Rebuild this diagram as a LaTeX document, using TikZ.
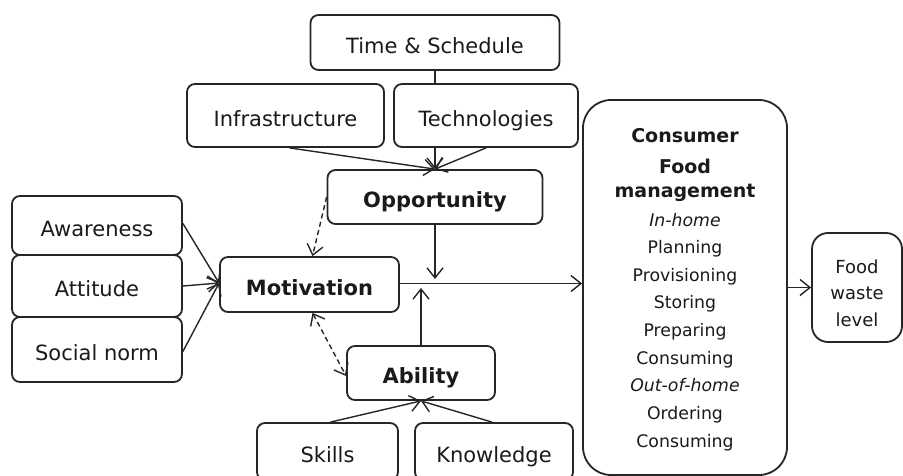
\documentclass[tikz,border=0pt]{standalone}
\usepackage{fontspec}
\setmainfont{DejaVu Sans}
\usetikzlibrary{arrows.meta,calc}
\newcommand{\lblfont}{\fontsize{21}{25}\selectfont}
\newcommand{\bigbold}{\fontsize{19}{23}\selectfont\bfseries}
\newcommand{\smallfont}{\fontsize{17.3}{21}\selectfont}
\newcommand{\wastefont}{\fontsize{18}{22}\selectfont}
\definecolor{ink}{HTML}{262626}
\definecolor{txt}{HTML}{1A1A1A}
\tikzset{
  box/.style={draw=ink, line width=1.8pt, rounded corners=8pt, fill=white,
    inner sep=0pt, font=\lblfont, text=txt, text height=23pt, text depth=1.6pt},
  boldbox/.style={box, font=\lblfont\bfseries},
  tip/.tip={Straight Barb[length=10pt,width=16pt,line width=1.4pt]},
  conn/.style={draw=ink, line width=1.4pt, -tip},
  plain/.style={draw=ink, line width=1.4pt},
  dash2/.style={dash pattern=on 5pt off 3.5pt},
  linetext/.style={anchor=base, inner sep=0pt, text=txt},
}
\begin{document}
\begin{tikzpicture}[x=1pt,y=-1pt]
\clip (0,0) rectangle (903,476);
\fill[white] (0,0) rectangle (903,476);

% nodes
\node[box, minimum width=249pt, minimum height=55pt] (time) at (435,42.5) {Time \& Schedule};
\node[box, minimum width=197pt, minimum height=63pt] (infra) at (285.5,115.5) {Infrastructure};
\node[box, minimum width=184pt, minimum height=63pt] (tech) at (486,115.5) {Technologies};
\node[boldbox, minimum width=215pt, minimum height=54pt] (opp) at (435,197) {Opportunity};
\node[box, minimum width=170pt, minimum height=59pt] (aware) at (97,225.5) {Awareness};
\node[box, minimum width=170pt, minimum height=62pt] (att) at (97,286) {Attitude};
\node[box, minimum width=170pt, minimum height=65pt] (soc) at (97,349.5) {Social norm};
\node[boldbox, minimum width=179pt, minimum height=55pt] (mot) at (309.5,284.5) {Motivation};
\node[boldbox, minimum width=148pt, minimum height=54pt] (abil) at (421,373) {Ability};
\node[box, minimum width=141pt, minimum height=57pt] (skills) at (327.5,451.5) {Skills};
\node[box, minimum width=158pt, minimum height=57pt] (know) at (494,451.5) {Knowledge};
\node[box, rounded corners=28pt, minimum width=204pt, minimum height=375pt] (cons) at (685,287.5) {};
\node[box, rounded corners=16pt, minimum width=90pt, minimum height=109pt] (waste) at (857,287.5) {};

% consumer text
\node[linetext, font=\bigbold] (c1) at (685,143) {Consumer};
\node[linetext, font=\bigbold] (c2) at (685,174) {Food};
\node[linetext, font=\bigbold] (c3) at (685,198) {management};
\node[linetext, font=\smallfont\itshape] (c4) at (685,226) {In-home};
\node[linetext, font=\smallfont] (c5) at (685,253.6) {Planning};
\node[linetext, font=\smallfont] (c6) at (685,281.3) {Provisioning};
\node[linetext, font=\smallfont] (c7) at (685,308.9) {Storing};
\node[linetext, font=\smallfont] (c8) at (685,336.5) {Preparing};
\node[linetext, font=\smallfont] (c9) at (685,364.1) {Consuming};
\node[linetext, font=\smallfont\itshape] (c10) at (685,391.8) {Out-of-home};
\node[linetext, font=\smallfont] (c11) at (685,419.4) {Ordering};
\node[linetext, font=\smallfont] (c12) at (685,447) {Consuming};

% waste text
\node[linetext, font=\wastefont] (w1) at (857,273) {Food};
\node[linetext, font=\wastefont] (w2) at (857,299) {waste};
\node[linetext, font=\wastefont] (w3) at (857,326) {level};

% coordinates on main line
\coordinate (oppend) at (435,279);
\coordinate (abilend) at (421,288);

% connectors
\draw[plain] (time.south) -- (time.south |- tech.north);
\draw[conn] (time.south |- tech.south) -- (opp.north);
\draw[conn] ([xshift=4pt]infra.south) -- (opp.north);
\draw[conn] (tech.south) -- (opp.north);

\draw[conn] ([yshift=2pt]aware.east) -- ([yshift=1.5pt]mot.west);
\draw[conn] (att.east) -- ([yshift=1.5pt]mot.west);
\draw[conn] ([yshift=-2pt]soc.east) -- ([yshift=1.5pt]mot.west);

\draw[conn] (opp.south) -- (oppend);
\draw[conn] (abil.north) -- (abilend);
\draw[conn] ([yshift=1pt]mot.east) -- ([yshift=1pt]mot.east -| cons.west);
\draw[conn] (cons.east) -- (waste.west);

\draw[conn, dash2] (opp.west) -- ([xshift=3pt]mot.north);
\draw[conn, dash2, tip-tip] ([xshift=3pt]mot.south) -- ([yshift=-3pt]abil.west);

\draw[conn] ([xshift=3pt]skills.north) -- (abil.south);
\draw[conn] ([xshift=-2pt]know.north) -- (abil.south);
\end{tikzpicture}
\end{document}
